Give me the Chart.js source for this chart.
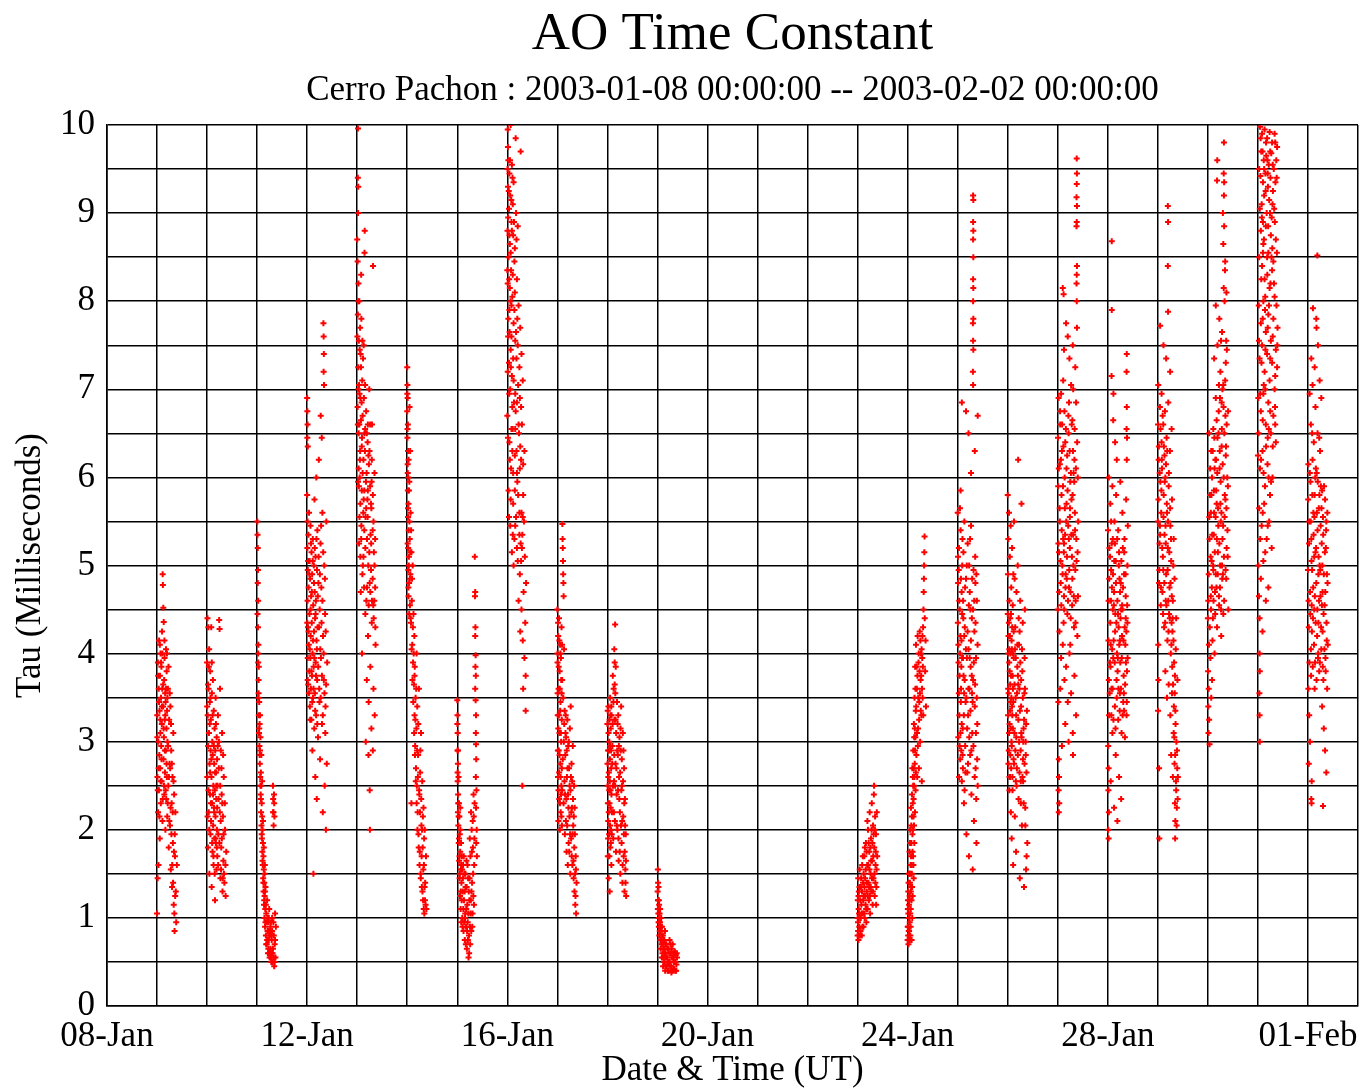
<!DOCTYPE html>
<html>
<head>
<meta charset="utf-8">
<script src="https://cdn.jsdelivr.net/npm/chart.js@4.4.0/dist/chart.umd.min.js"></script>
<style>
html,body{margin:0;padding:0;background:#fff;}
canvas{display:block;}
</style>
</head>
<body>
<canvas id="c" width="1368" height="1088"></canvas>
<script>
// x tick labels (every 4 days, starting 08-Jan)
const xTickLabels = ['08-Jan','12-Jan','16-Jan','20-Jan','24-Jan','28-Jan','01-Feb'];
const yTickLabels = ['0','1','2','3','4','5','6','7','8','9','10'];
// night start: days after 2003-01-08 00:00 UT
const nightDays = [1,2,3,4,5,6,7,8,9,10,11,15,16,17,18,19,20,21,22,23,24];
// each night: flat list of [hour UT, tau ms] pairs
const n09Jan = [0.0,1.05,0.1,3.3,0.2,2.6,0.3,1.45,0.4,3.9,0.5,2.2,0.6,3.0,0.7,1.6,0.8,3.6,0.9,2.45,1.0,4.15,1.1,2.85,1.2,3.35,1.3,1.9,1.4,3.75,1.5,2.7,1.6,3.1,1.7,4.0,1.8,2.3,1.9,3.5,2.0,2.95,2.1,3.85,2.2,2.55,2.3,3.2,2.4,4.25,2.5,3.6,2.6,2.1,2.7,4.9,2.8,4.78,2.9,3.4,3.0,4.52,3.1,2.8,3.2,4.36,3.3,3.05,3.4,3.7,3.5,2.4,3.6,3.95,3.7,3.25,3.8,2.65,3.9,3.55,4.0,2.0,4.1,3.45,4.2,2.9,4.3,4.05,4.4,2.35,4.5,3.15,4.6,3.8,4.7,2.6,4.8,3.35,4.9,2.15,5.0,3.0,5.2,3.6,5.4,2.5,5.6,1.8,5.8,3.25,6.0,2.75,6.2,2.05,6.4,3.4,6.6,1.55,6.8,2.9,7.0,2.3,7.2,1.35,7.4,2.6,7.6,1.85,7.8,3.1,8.0,1.15,8.2,2.4,8.4,0.85,8.6,1.7,8.8,2.2,9.0,1.3,9.2,0.95,9.5,1.6,
  0.15,3.05,0.35,2.45,0.55,3.75,0.75,2.7,0.95,3.45,1.15,2.15,1.35,4.1,1.55,3.25,1.75,2.55,1.95,3.9,2.15,2.8,2.35,3.4,2.55,4.0,2.75,2.35,2.95,3.65,3.15,3.15,3.35,2.5,3.55,4.15,3.75,2.9,3.95,3.3,4.15,2.45,4.35,3.6,4.55,2.75,4.75,4.0,4.95,3.5,5.1,2.3,5.3,2.95,5.5,3.85,5.7,2.6,5.9,2.1,6.1,3.55,6.3,2.7,6.5,2.25,6.7,3.2,6.9,1.95,7.1,2.75,7.3,1.6,7.5,2.2,7.7,1.4,7.9,2.55,8.1,1.75,8.3,1.05,8.5,1.95,8.7,1.25];
const n10Jan = [0.0,3.9,0.1,2.6,0.2,4.4,0.3,3.3,0.4,1.8,0.5,2.95,0.6,4.3,0.7,3.6,0.8,2.2,0.9,3.1,1.0,4.05,1.1,1.5,1.2,2.75,1.3,3.45,1.4,2.4,1.5,3.8,1.6,1.95,1.7,2.9,1.8,3.25,1.9,2.1,2.0,4.3,2.1,2.6,2.2,1.35,2.3,3.55,2.4,2.3,2.5,3.0,2.6,1.75,2.7,2.85,2.8,3.7,2.9,2.05,3.0,2.5,3.1,1.6,3.2,3.35,3.3,2.25,3.4,2.75,3.5,1.9,3.6,3.15,3.7,2.45,3.8,1.2,3.9,2.9,4.0,2.15,4.1,3.5,4.2,1.85,4.3,2.65,4.4,2.35,4.5,1.55,4.6,3.05,4.7,2.0,4.8,2.8,4.9,1.7,5.0,2.5,5.2,3.3,5.4,1.95,5.6,2.7,5.8,4.38,6.0,4.28,6.1,2.2,6.2,3.6,6.4,1.45,6.6,2.9,6.8,1.8,7.0,2.4,7.2,3.1,7.4,1.3,7.6,2.15,7.8,1.65,8.0,2.6,8.3,1.4,8.6,2.0,8.9,1.25,9.2,1.75,
  0.05,3.4,0.25,2.15,0.45,3.65,0.65,2.45,0.85,3.85,1.05,2.0,1.25,3.2,1.45,2.65,1.65,3.5,1.85,2.3,2.05,2.8,2.25,3.9,2.45,1.85,2.65,3.3,2.85,2.4,3.05,1.7,3.25,2.95,3.45,2.2,3.65,1.5,3.85,2.65,4.05,1.9,4.25,3.2,4.45,2.5,4.65,1.8,4.85,2.25,5.1,2.95,5.3,1.6,5.5,2.35,5.7,3.0,5.9,1.85,6.3,2.5,6.5,2.1,6.7,1.55,6.9,2.7,7.1,1.9,7.3,2.3,7.5,1.45,7.7,2.85,7.9,1.95,8.1,1.5,8.5,2.3,8.8,1.6];
const n11Jan = [0.1,5.5,0.2,5.35,0.3,5.2,0.4,4.95,0.3,4.8,0.5,4.6,0.4,4.3,0.6,4.1,0.5,3.9,0.7,3.7,0.6,3.5,0.8,3.3,0.9,3.1,1.0,3.45,1.1,2.95,1.2,3.2,1.3,2.75,1.4,2.9,1.5,2.6,1.6,3.05,1.7,2.4,1.8,2.65,1.9,2.2,2.0,2.5,2.1,2.05,2.2,2.3,2.3,1.9,2.4,2.15,2.5,1.75,2.6,2.0,2.7,1.6,2.8,1.85,2.9,1.45,3.0,1.7,3.1,1.3,3.2,1.55,3.3,1.15,3.4,1.4,3.5,1.0,3.6,1.25,3.7,1.6,3.8,0.9,3.9,1.1,4.0,1.35,4.2,0.8,4.4,1.05,4.6,0.7,4.8,1.2,5.0,0.85,5.2,0.6,5.4,0.95,5.6,0.75,5.8,1.1,6.0,0.55,6.2,0.85,6.4,0.65,6.6,0.95,6.8,0.5,7.0,0.75,7.2,1.0,7.4,0.6,7.6,2.5,7.7,2.35,7.8,2.2,7.9,2.05,8.0,0.8,8.1,2.4,8.2,0.45,8.3,2.15,8.4,0.7,8.6,1.05,8.8,0.55,9.0,0.9,
  0.2,4.45,0.5,4.0,0.7,3.55,0.8,3.85,1.0,3.15,1.2,2.85,1.4,3.3,1.6,2.5,1.8,2.35,2.0,2.85,2.2,1.95,2.4,2.55,2.6,1.65,2.8,2.1,3.0,1.4,3.2,1.8,3.4,1.2,3.6,1.5,3.8,1.3,4.0,0.95,4.2,1.15,4.4,0.7,4.6,0.95,4.8,0.75,5.0,1.0,5.2,0.85,5.4,0.65,5.6,1.0,5.8,0.6,6.0,0.8,6.2,0.6,6.4,0.9,6.6,0.55,6.8,0.8,7.0,0.6,7.2,0.85,7.4,0.5,7.6,0.65,7.8,0.95,8.0,0.55,8.4,0.5,8.6,0.75,7.7,2.2,8.2,2.3];
const n12Jan = [0.0,6.9,0.1,6.75,0.2,6.6,0.1,6.45,0.3,6.35,0.0,5.8,0.2,5.5,0.1,5.2,0.3,4.95,0.2,4.6,0.4,4.3,0.3,3.95,0.5,3.65,0.6,5.35,0.7,4.75,0.8,4.1,0.9,5.6,1.0,3.8,1.1,4.45,1.2,5.05,1.3,3.4,1.4,4.85,1.5,3.95,1.6,5.45,1.7,4.2,1.8,3.6,1.9,4.65,2.0,3.25,2.1,5.15,2.2,4.35,2.3,3.75,2.4,4.9,2.5,2.9,2.6,4.0,2.7,5.3,2.8,3.5,2.9,4.55,3.0,1.5,3.1,3.85,3.2,5.0,3.3,4.25,3.4,3.15,3.5,5.75,3.6,4.7,3.7,3.55,3.8,4.4,3.9,2.6,4.0,5.1,4.1,3.9,4.2,4.6,4.3,3.3,4.4,6.0,4.5,4.15,4.6,2.35,4.7,4.95,4.8,3.7,4.9,5.4,5.0,4.3,5.2,3.05,5.4,4.8,5.6,6.2,5.8,3.6,6.0,4.5,6.2,2.8,6.4,5.25,6.5,6.7,6.6,3.95,6.8,4.75,7.0,6.45,7.1,3.2,7.3,5.6,7.5,2.2,7.6,4.2,7.8,7.75,7.9,7.6,8.0,7.4,7.9,7.2,8.1,7.05,8.0,3.7,8.2,5.0,8.4,2.5,8.6,4.45,8.8,3.4,9.0,2.0,9.2,5.5,9.4,2.75,9.6,3.9,
  0.05,4.35,0.25,3.7,0.45,5.05,0.65,4.25,0.85,3.55,1.05,4.9,1.25,4.05,1.45,3.25,1.65,4.5,1.85,5.25,2.05,3.8,2.25,4.7,2.45,3.45,2.65,5.05,2.85,4.15,3.05,3.6,3.25,4.8,3.45,3.95,3.65,5.2,3.85,3.35,4.05,4.45,4.25,3.75,4.45,5.3,4.65,4.05,4.85,3.2,5.1,4.65,5.3,3.85,5.5,5.1,5.7,4.3,5.9,3.45,6.1,4.9,6.3,4.05,6.5,3.5,6.7,5.45,6.9,4.35,7.1,3.75,7.3,4.6,7.5,3.3,7.7,5.15,7.9,4.0,8.3,3.55,8.5,4.85,8.7,3.1,8.9,4.25,9.1,3.65];
const n13Jan = [0.4,9.96,0.3,9.4,0.5,9.3,0.4,9.0,3.6,8.8,0.0,8.7,3.5,8.55,7.6,8.4,0.2,8.45,0.6,8.2,1.0,8.0,0.3,7.85,1.4,7.7,0.8,7.55,2.0,7.8,1.6,7.4,0.5,7.25,2.4,7.1,1.1,6.95,2.8,7.35,0.2,6.8,1.8,6.65,3.2,6.9,0.7,6.5,2.2,6.35,3.8,6.55,1.3,6.2,4.3,6.75,2.6,6.05,5.0,6.4,0.4,5.95,3.4,5.85,5.6,6.15,1.5,5.7,4.0,5.55,6.2,5.9,2.0,5.45,4.7,5.3,6.8,5.65,0.9,5.25,3.0,5.1,5.3,5.0,7.4,5.4,2.5,4.9,6.0,4.8,8.0,5.15,1.7,4.7,4.4,4.6,6.6,4.95,8.6,4.75,3.7,6.3,5.8,7.0,7.1,6.6,2.9,5.6,4.9,5.75,1.2,6.0,6.4,5.35,8.3,6.05,3.9,4.45,5.2,4.2,7.0,4.35,8.8,4.1,2.3,4.0,6.3,3.85,4.6,3.7,7.8,3.6,5.5,3.45,8.4,3.3,6.8,3.15,4.1,3.0,7.5,2.9,6.0,2.45,6.1,2.0,5.4,2.85,1.5,5.1,3.3,4.75,0.8,5.9,2.1,6.85,4.5,6.05,7.7,4.55,3.1,7.5,1.9,8.3,0.9,7.05,5.1,6.6,6.9,5.95,
  0.1,7.6,0.6,7.0,1.0,6.6,1.4,6.3,1.8,7.25,2.2,5.85,2.6,6.7,3.0,6.2,3.4,5.4,3.8,7.05,4.2,5.95,4.6,6.5,5.0,5.55,5.4,6.25,5.8,5.15,6.2,6.6,6.6,5.7,7.0,6.2,7.4,4.85,7.8,5.5,8.2,4.6,8.6,5.3,0.3,6.6,0.7,6.1,1.1,5.55,1.5,6.9,1.9,5.3,2.3,6.45,2.7,5.0,3.1,5.75,3.5,6.5,3.9,5.2,4.3,5.65,4.7,4.75,5.1,5.85,5.5,4.55,5.9,6.3,6.3,4.7,6.7,5.25,7.1,4.6,7.5,5.8,7.9,4.4,8.3,5.0,8.7,4.3,0.5,8.0,1.2,7.45,2.5,7.55];
const n14Jan = [0.0,7.25,0.1,7.05,0.2,6.9,0.0,6.75,0.3,6.6,0.1,6.45,0.4,6.3,0.2,6.15,0.5,6.0,0.3,5.85,0.6,5.7,0.4,5.55,0.7,5.4,0.2,5.25,0.8,5.1,0.5,4.95,0.9,4.8,0.6,4.65,1.1,6.8,1.0,5.95,1.2,5.3,1.3,4.55,1.4,6.3,1.5,4.9,1.6,5.6,1.8,4.35,2.0,5.15,2.0,2.3,2.2,4.6,2.4,4.1,2.6,5.0,2.8,3.9,3.0,4.45,3.2,3.65,3.4,4.2,3.5,3.3,3.6,3.85,3.8,2.95,4.0,3.5,4.2,2.7,4.4,3.15,4.5,4.0,4.6,2.5,4.8,3.4,5.0,2.2,5.2,2.85,5.4,1.95,5.6,3.6,5.8,2.4,6.0,1.75,6.2,2.65,6.4,1.5,6.6,3.1,6.8,2.05,7.0,1.35,7.2,2.55,7.4,1.8,7.6,1.2,7.8,2.25,8.0,1.6,8.2,1.05,8.4,2.0,8.6,1.4,8.8,1.15,9.0,1.7,9.2,1.1,
  0.05,6.95,0.15,6.55,0.25,6.05,0.35,5.65,0.45,5.2,0.55,4.75,0.65,6.2,0.75,5.0,0.85,5.85,0.95,4.45,1.05,5.5,1.25,4.85,1.45,5.15,1.65,4.4,1.85,5.4,2.1,4.05,2.3,4.85,2.5,3.7,2.7,4.3,2.9,3.45,3.1,4.0,3.3,3.1,3.5,3.75,3.7,2.85,3.9,3.25,4.1,2.55,4.3,3.6,4.5,2.3,4.7,2.9,4.9,2.0,5.1,2.6,5.3,3.2,5.5,1.8,5.7,2.45,5.9,1.6,6.1,2.2,6.3,2.9,6.5,1.45,6.7,2.35,6.9,1.7,7.1,2.0,7.3,1.3,7.5,2.15,7.7,1.55,7.9,1.1,8.1,1.9,8.3,1.35,8.5,1.2];
const n15Jan = [0.0,3.47,0.1,3.3,0.2,3.1,0.1,2.9,0.3,2.75,0.2,2.55,0.4,2.4,0.3,2.2,0.5,2.05,0.6,2.6,0.7,1.85,0.8,2.3,0.9,1.65,1.0,2.15,1.1,1.45,1.2,1.95,1.3,1.25,1.4,1.75,1.5,2.0,1.6,1.1,1.7,1.55,1.8,1.85,1.9,0.95,2.0,1.4,2.2,1.7,2.4,1.0,2.6,1.3,2.8,1.6,3.0,0.85,3.2,1.2,3.4,1.5,3.6,0.75,3.8,1.05,4.0,1.35,4.2,0.9,4.4,1.65,4.6,0.65,4.8,1.15,5.0,0.95,5.2,1.45,5.4,0.55,5.6,0.8,5.8,1.2,6.0,1.9,6.2,0.7,6.4,1.05,6.6,2.2,6.8,1.3,7.0,1.75,7.2,0.9,7.4,2.1,7.6,1.5,7.8,2.4,8.0,1.15,8.4,5.1,8.6,4.7,8.5,4.65,8.7,4.3,8.6,4.2,8.8,3.98,8.7,3.85,8.9,3.75,8.6,3.6,8.8,3.47,9.0,3.3,8.9,3.1,9.0,2.97,9.1,2.8,8.9,2.6,9.2,2.45,9.0,2.25,9.3,2.0,9.1,1.85,9.4,1.7,
  0.05,3.2,0.15,2.65,0.35,2.9,0.45,2.3,0.65,2.15,0.85,1.9,1.05,1.7,1.25,1.5,1.45,2.25,1.65,1.3,1.85,1.6,2.1,1.2,2.3,1.55,2.5,0.9,2.7,1.45,2.9,1.1,3.1,1.7,3.3,0.95,3.5,1.3,3.7,1.0,3.9,1.5,4.1,0.7,4.3,1.1,4.5,1.35,4.7,0.85,4.9,1.6,5.1,0.75,5.3,1.05,5.5,1.3,5.7,0.6,5.9,1.45,6.1,0.9,6.3,1.7,6.5,1.2,6.7,0.85,6.9,2.0,7.1,1.4,7.3,1.05,7.5,1.8,7.7,1.25,7.9,2.15,8.1,1.6,8.2,1.9,8.3,2.3];
const n16Jan = [0.2,9.95,1.6,10.0,4.0,9.85,6.4,9.7,0.5,9.6,1.0,9.45,2.2,9.55,0.3,9.3,1.4,9.2,3.0,9.35,0.8,9.05,2.0,8.9,4.2,9.0,0.1,8.8,1.2,8.65,2.8,8.75,5.0,8.85,0.6,8.5,1.8,8.35,3.4,8.45,0.2,8.2,2.4,8.05,4.6,8.25,1.0,7.9,3.0,7.75,5.4,7.95,0.4,7.6,1.6,7.45,3.8,7.55,6.2,7.7,0.8,7.3,2.2,7.15,4.4,7.35,6.8,7.4,1.4,7.0,3.2,6.85,5.2,7.05,0.0,6.7,2.6,6.55,4.0,6.75,6.0,6.9,7.4,7.1,1.0,6.4,3.6,6.25,5.6,6.5,7.0,6.6,1.8,6.1,4.8,5.95,6.6,6.2,0.6,5.85,2.8,5.7,4.2,5.55,7.6,5.8,1.4,5.45,3.4,5.3,5.8,5.6,8.0,5.5,2.2,5.15,5.0,5.05,6.4,5.25,8.4,5.1,3.0,5.0,7.2,5.35,0.3,9.75,2.6,9.1,3.6,8.6,1.2,8.15,4.8,7.8,2.0,7.6,5.8,7.25,3.8,6.95,6.6,6.8,2.4,6.3,4.6,6.05,8.2,6.3,7.0,5.2,6.0,4.9,7.8,4.7,6.8,4.5,8.6,4.35,7.4,4.15,8.2,3.95,8.8,3.75,7.6,3.6,8.8,3.35,7.2,2.5,5.4,4.6,9.0,4.8,6.2,4.25,
  0.1,9.5,0.7,9.25,1.3,9.6,1.9,9.15,2.5,9.4,0.4,8.95,1.0,8.75,1.6,8.55,2.2,8.8,3.2,8.9,0.0,8.35,0.9,8.25,1.5,8.0,2.6,8.3,3.6,8.1,4.4,8.7,0.5,7.8,1.1,7.65,2.0,7.95,2.8,7.35,3.4,7.9,4.2,7.65,5.0,7.5,0.2,7.2,0.9,6.95,1.7,7.25,2.4,6.8,3.0,7.1,3.8,6.55,4.6,6.85,5.4,6.6,6.2,6.35,0.3,6.45,1.2,6.2,2.0,6.55,2.8,6.05,3.6,5.85,4.4,6.3,5.2,5.8,6.0,6.1,6.8,5.6,7.6,6.15,0.8,5.55,1.6,5.75,2.6,5.35,3.8,5.45,4.6,5.2,5.8,5.35,6.6,5.05,7.4,5.55];
const n17Jan = [0.0,4.5,0.1,3.9,0.2,3.3,0.3,2.6,0.4,4.2,0.5,2.1,0.6,3.6,0.7,2.9,0.8,4.4,0.9,2.35,1.0,3.1,1.1,3.8,1.2,2.0,1.3,4.1,1.4,2.75,1.5,3.45,1.6,2.2,1.7,3.95,1.8,3.0,1.9,2.5,2.0,4.3,2.1,3.25,2.2,2.05,2.3,3.7,2.4,5.47,2.5,5.3,2.6,5.2,2.7,5.05,2.8,4.9,2.9,4.8,3.0,4.65,2.6,2.8,2.8,3.5,3.0,2.3,3.2,4.05,3.3,3.2,3.4,2.55,3.5,3.35,3.6,1.95,3.8,2.85,4.0,3.3,4.1,2.1,4.2,3.05,4.4,1.75,4.6,2.6,4.8,3.25,5.0,1.6,5.1,2.4,5.2,2.95,5.4,1.85,5.6,2.7,5.8,2.15,6.0,3.15,6.2,1.5,6.3,2.45,6.4,3.4,6.6,1.9,6.8,2.75,7.0,2.25,7.2,1.6,7.4,2.95,7.6,2.05,7.8,1.45,8.0,2.5,8.2,1.3,8.4,1.95,8.6,1.15,8.8,1.7,9.0,1.05,9.2,1.4,
  0.05,4.0,0.15,3.55,0.25,2.9,0.35,4.35,0.45,3.15,0.55,2.45,0.65,3.85,0.75,3.3,0.85,2.65,0.95,4.15,1.05,2.85,1.15,3.6,1.25,2.3,1.35,3.35,1.45,4.0,1.55,2.6,1.65,3.1,1.75,2.4,1.85,3.7,1.95,2.15,2.05,3.55,2.15,2.7,2.25,4.1,2.35,2.45,3.1,3.0,3.7,2.4,3.9,3.1,4.3,2.35,4.5,2.9,4.7,2.05,4.9,2.7,5.3,2.25,5.5,3.0,5.7,1.75,5.9,2.5,6.1,1.95,6.5,2.6,6.7,2.2,6.9,1.7,7.1,2.55,7.3,1.95,7.5,2.35,7.7,1.65,7.9,2.15,8.1,1.8,8.3,2.25,8.5,1.5,8.7,1.25,8.9,1.55];
const n18Jan = [0.0,3.2,0.1,2.5,0.2,1.7,0.3,2.9,0.4,2.1,0.5,3.4,0.6,1.45,0.7,2.65,0.8,1.95,0.9,3.0,1.0,2.3,1.1,1.3,1.2,2.8,1.3,3.5,1.4,1.8,1.5,2.45,1.6,3.15,1.7,2.0,1.8,2.7,1.9,1.6,2.0,3.3,2.2,2.2,2.4,2.95,2.6,3.75,2.8,1.9,3.0,3.6,3.2,2.55,3.3,4.05,3.4,3.25,3.5,3.9,3.6,2.1,3.7,4.33,3.8,3.55,3.9,2.75,4.0,3.85,4.1,1.75,4.2,3.1,4.4,2.4,4.6,3.45,4.8,2.0,5.0,2.85,5.2,3.3,5.4,1.65,5.6,2.6,5.8,3.05,6.0,2.2,6.2,1.5,6.4,2.9,6.6,3.4,6.8,1.85,7.0,2.5,7.2,1.4,7.4,3.1,7.6,2.15,7.8,1.7,8.0,2.7,8.2,1.3,8.4,2.35,8.6,1.55,8.8,1.95,9.0,1.25,
  0.05,2.75,0.15,3.35,0.25,2.3,0.35,1.9,0.45,2.6,0.55,3.1,0.65,2.2,0.75,2.9,0.85,2.45,0.95,1.7,1.05,3.25,1.15,2.55,1.25,2.05,1.35,2.95,1.45,3.3,1.55,2.25,1.65,1.85,1.75,2.9,1.85,3.4,1.95,2.4,2.1,1.95,2.3,2.75,2.5,3.2,2.7,2.5,2.9,3.45,3.1,2.2,3.3,2.85,3.5,3.65,3.7,2.5,3.9,3.25,4.3,2.7,4.5,2.05,4.7,2.9,4.9,3.2,5.1,2.45,5.3,1.9,5.5,2.95,5.7,2.35,5.9,1.75,6.1,2.65,6.3,3.15,6.5,2.05,6.7,2.45,6.9,2.8,7.1,2.1,7.3,1.6,7.5,2.55,7.7,2.9,7.9,1.95,8.1,2.3,8.3,1.75,8.5,2.05,8.7,1.4,8.9,1.65];
const n19Jan = [0.2,1.55,0.3,1.4,0.1,1.3,0.4,1.2,0.2,1.1,0.5,1.35,0.6,1.0,0.7,0.9,0.8,1.15,0.9,0.8,1.0,1.05,1.2,0.95,1.4,0.75,1.6,0.85,1.8,1.0,2.0,0.7,2.2,0.9,2.4,0.6,2.6,0.8,2.8,0.55,3.0,0.75,3.2,0.65,3.4,0.5,3.6,0.85,3.8,0.6,4.0,0.45,4.3,0.7,4.6,0.55,4.9,0.4,5.2,0.65,5.5,0.5,5.8,0.75,6.1,0.45,6.4,0.6,6.7,0.38,7.0,0.55,7.3,0.7,7.6,0.42,7.9,0.6,8.2,0.5,8.5,0.4,8.8,0.58,9.1,0.47,9.4,0.55,
  0.25,1.2,0.45,1.05,0.55,0.95,0.65,1.2,0.85,0.95,1.1,0.85,1.3,1.1,1.5,0.65,1.7,0.9,1.9,0.75,2.1,0.55,2.3,0.8,2.5,0.7,2.7,0.45,2.9,0.65,3.1,0.5,3.3,0.75,3.5,0.6,3.7,0.4,3.9,0.7,4.15,0.55,4.45,0.45,4.75,0.65,5.05,0.5,5.35,0.4,5.65,0.6,5.95,0.5,6.25,0.7,6.55,0.45,6.85,0.65,7.15,0.4,7.45,0.55,7.75,0.5,8.05,0.42,8.35,0.62,8.65,0.5,8.95,0.4,9.25,0.6];
const n23Jan = [0.0,0.8,0.1,1.2,0.2,0.95,0.3,1.45,0.4,0.75,0.5,1.1,0.6,1.3,0.8,0.9,1.0,1.55,1.2,1.0,1.4,0.85,1.6,1.35,1.8,1.15,2.0,0.8,2.2,1.6,2.4,1.05,2.6,1.4,2.8,0.9,3.0,1.25,3.2,1.7,3.4,1.0,3.6,1.45,3.8,1.15,4.0,1.85,4.2,0.95,4.4,1.3,4.6,1.6,4.8,1.1,5.0,2.0,5.2,1.4,5.4,1.2,5.6,1.75,5.8,2.2,6.0,1.05,6.2,1.5,6.4,1.9,6.6,1.3,6.8,2.3,7.0,1.65,7.2,1.15,7.4,2.05,7.6,1.45,7.8,2.4,7.9,2.5,8.0,1.8,8.2,1.25,8.4,2.15,8.6,1.6,8.8,1.95,9.0,1.35,9.2,2.2,9.4,1.7,
  0.05,1.0,0.25,0.85,0.45,1.25,0.7,1.05,0.9,1.35,1.1,0.8,1.3,1.2,1.5,1.0,1.7,1.45,1.9,1.05,2.1,1.3,2.3,0.9,2.5,1.7,2.7,1.2,2.9,1.5,3.1,1.05,3.3,1.35,3.5,1.8,3.7,1.25,3.9,1.55,4.1,1.1,4.3,1.75,4.5,1.4,4.7,2.1,4.9,1.25,5.1,1.6,5.3,1.85,5.5,1.35,5.7,1.55,5.9,1.25,6.1,1.8,6.3,1.35,6.5,1.65,6.7,2.0,6.9,1.45,7.1,1.85,7.3,1.3,7.5,1.7,7.7,1.95,8.1,1.5,8.3,2.0,8.5,1.4,8.7,1.75,8.9,1.15,9.1,1.55];
const n24Jan = [0.0,0.75,0.1,1.1,0.2,0.9,0.3,1.3,0.4,0.7,0.5,1.0,0.6,1.5,0.7,0.85,0.8,1.2,0.9,1.75,1.0,0.95,1.1,1.4,1.2,2.0,1.3,0.8,1.4,1.6,1.5,1.1,1.6,2.25,1.7,1.35,1.8,1.85,1.9,0.75,2.0,1.5,2.1,2.4,2.2,1.0,2.3,1.95,2.4,1.25,2.5,2.6,2.6,1.7,2.7,2.9,2.8,2.15,2.9,1.45,3.0,3.2,3.1,2.5,3.2,1.85,3.3,3.5,3.4,2.75,3.5,2.2,3.6,3.85,3.7,3.05,3.8,2.45,3.9,3.35,4.0,4.1,4.2,2.85,4.4,3.6,4.6,2.6,4.8,4.2,5.0,3.15,5.2,3.9,5.4,2.7,5.6,3.45,5.8,4.25,6.0,3.0,6.2,3.7,6.4,4.0,6.6,3.3,6.8,2.55,7.0,3.95,7.2,3.5,7.4,4.3,7.6,4.5,7.7,4.7,7.8,4.85,7.9,5.0,8.0,5.15,8.1,5.33,8.2,4.4,8.4,3.8,8.6,4.15,8.8,3.4,
  0.05,0.9,0.15,1.2,0.25,0.8,0.35,1.05,0.45,1.4,0.55,0.85,0.65,1.15,0.75,1.0,0.85,1.5,0.95,1.25,1.05,0.75,1.15,1.85,1.25,1.05,1.35,1.5,1.45,0.9,1.55,1.3,1.65,1.7,1.75,2.05,1.85,1.2,1.95,1.6,2.05,2.15,2.15,1.35,2.25,2.7,2.35,1.75,2.45,2.3,2.55,2.0,2.65,2.5,2.75,1.6,2.85,2.35,2.95,2.7,3.05,2.05,3.15,3.05,3.25,2.6,3.45,3.15,3.55,2.9,3.75,3.6,3.95,2.65,4.1,3.4,4.3,3.85,4.5,3.1,4.7,3.75,4.9,2.95,5.1,3.5,5.3,4.0,5.5,3.25,5.7,3.8,5.9,3.55,6.1,4.15,6.3,3.35,6.5,3.75,6.7,4.05,6.9,3.6,7.1,4.2,7.3,3.85,7.5,3.3];
const n25Jan = [7.4,9.2,7.5,9.15,7.4,8.9,7.5,8.8,7.4,8.7,7.5,8.5,7.4,8.25,7.5,8.15,7.4,8.0,7.5,7.8,7.3,7.75,7.4,7.55,7.5,7.45,7.3,7.2,7.4,7.05,2.0,6.85,4.0,6.75,9.6,6.7,5.2,6.5,8.2,6.3,6.4,6.05,1.4,5.85,0.0,5.6,0.2,4.8,0.4,3.9,0.6,5.2,0.8,3.3,1.0,4.5,1.2,2.8,1.4,5.4,1.6,3.6,1.8,4.15,2.0,2.55,2.2,5.0,2.4,3.15,2.6,4.6,2.8,3.75,3.0,2.3,3.2,5.5,3.4,4.3,3.6,2.95,3.8,3.45,4.0,4.85,4.2,1.95,4.4,3.95,4.6,2.65,4.8,5.25,5.0,3.3,5.2,4.05,5.4,1.7,5.6,3.6,5.8,4.7,6.0,2.85,6.2,3.85,6.4,5.45,6.6,2.4,6.8,4.4,7.0,3.1,7.2,1.55,7.4,3.7,7.6,4.95,7.8,2.1,8.0,4.25,8.2,3.4,8.4,5.1,8.6,2.7,8.8,3.95,9.0,1.85,9.2,4.6,9.4,3.2,9.6,2.5,0.1,4.35,0.3,3.05,0.5,4.95,0.7,2.6,0.9,3.75,1.1,5.65,1.3,4.2,1.5,3.45,1.7,2.9,1.9,4.7,2.1,3.95,2.3,5.3,2.5,2.7,2.7,4.4,3.1,3.55,3.3,2.45,5.5,5.0,6.1,4.5,6.9,3.55,8.5,4.8,8.9,2.35,
  0.15,5.1,0.35,4.1,0.55,3.55,0.75,4.6,0.95,2.95,1.15,4.0,1.35,3.1,1.55,4.85,1.75,3.85,1.95,3.2,2.15,4.45,2.35,2.85,2.55,3.95,2.75,5.15,2.95,3.3,3.15,4.2,3.35,3.7,3.55,4.75,3.75,2.65,3.95,4.05,4.15,3.5,4.35,5.0,4.55,3.15,4.75,4.25,4.95,2.75,5.15,3.6,5.35,4.55,5.55,3.05,5.75,3.95,5.95,5.3,6.15,3.35,6.35,4.15,6.55,2.9,6.75,3.75,6.95,4.85,7.15,3.45,7.35,4.5,7.55,2.95,7.75,3.9,7.95,4.6,8.15,2.6,8.35,3.65,8.55,4.35,8.75,3.1,8.95,4.9,9.15,3.5,9.35,2.8,9.55,4.1];
const n26Jan = [0.0,5.8,0.1,4.9,0.2,3.6,0.3,5.3,0.4,4.2,0.5,2.9,0.6,5.6,0.7,3.9,0.8,4.6,0.9,3.2,1.0,5.1,1.1,2.6,1.2,4.4,1.3,3.45,1.4,5.45,1.5,2.2,1.6,3.75,1.7,4.75,1.8,3.0,1.9,1.9,2.0,4.05,2.1,5.2,2.2,3.3,2.3,2.45,2.4,4.55,2.5,3.6,2.6,1.6,2.7,4.9,2.8,2.8,2.9,3.95,3.0,5.5,3.2,3.1,3.4,2.15,3.6,4.3,3.8,3.5,4.0,1.75,4.2,4.7,4.4,2.7,4.6,3.85,4.8,5.0,5.0,6.2,5.1,3.25,5.2,2.35,5.4,4.1,5.6,3.6,5.8,1.45,6.0,4.6,6.2,2.9,6.4,3.4,6.6,5.7,6.8,2.05,7.0,3.8,7.2,4.35,7.4,2.55,7.6,3.15,7.8,1.35,8.0,3.55,8.2,4.5,8.4,2.25,8.6,3.0,8.8,1.55,9.0,2.65,9.2,3.35,9.4,1.85,2.5,4.0,3.3,4.85,4.1,3.05,4.9,3.75,5.7,4.25,6.5,3.1,7.3,2.8,8.1,3.95,1.2,3.65,0.8,2.45,3.9,2.55,6.3,2.3,
  0.05,4.45,0.15,3.3,0.25,4.0,0.35,2.75,0.45,3.55,0.55,4.35,0.65,3.1,0.75,4.05,0.85,2.6,0.95,3.8,1.05,4.2,1.15,3.35,1.25,2.85,1.35,4.0,1.45,3.15,1.55,4.45,1.65,2.7,1.75,3.5,1.85,4.15,1.95,2.95,2.05,3.4,2.15,4.3,2.25,2.6,2.35,3.75,2.45,3.15,2.65,3.45,2.85,4.25,3.05,2.75,3.25,3.65,3.45,4.05,3.65,2.9,3.85,3.95,4.05,3.3,4.25,2.5,4.45,3.55,4.65,4.1,4.85,2.85,5.05,3.65,5.25,4.4,5.45,3.0,5.65,2.65,5.85,3.35,6.05,3.9,6.25,2.55,6.45,3.7,6.65,3.05,6.85,4.05,7.05,2.6,7.25,3.5,7.45,3.0,7.65,2.3,7.85,3.25,8.05,2.75,8.25,3.6,8.45,2.05,8.65,2.85,8.85,3.2,9.05,1.7];
const n27Jan = [9.1,9.62,9.2,9.45,9.1,9.33,9.0,9.18,9.2,9.08,9.1,8.9,9.0,8.85,9.2,8.4,9.1,8.3,9.0,8.2,9.1,8.0,9.2,7.7,2.4,8.15,2.8,8.08,4.0,7.75,4.8,7.6,3.0,7.45,5.6,7.35,7.2,7.5,8.4,7.25,2.6,7.1,6.4,7.05,0.4,6.9,1.2,6.6,2.0,6.3,3.2,6.75,4.2,6.1,5.2,6.5,6.0,5.95,7.0,6.65,8.0,6.2,8.8,6.85,9.6,6.0,0.2,5.9,1.0,5.5,1.8,5.8,2.6,5.3,3.4,5.65,4.4,5.1,5.0,5.45,5.8,5.2,6.6,5.75,7.4,5.35,8.2,5.6,9.0,5.05,9.8,5.5,0.6,5.15,1.4,4.8,2.2,5.0,3.0,4.65,3.8,4.9,4.6,4.45,5.4,4.75,6.2,4.4,7.0,4.85,7.8,4.3,8.6,4.6,9.4,4.2,0.0,4.5,0.8,4.25,1.6,3.95,2.4,4.1,3.2,3.7,4.0,3.85,4.8,3.45,5.6,4.0,6.4,3.55,7.2,3.1,7.3,2.85,8.0,3.75,8.8,3.3,3.6,3.2,5.2,3.0,0.3,3.45,0.5,2.8,0.6,2.6,0.4,2.45,0.7,2.3,0.5,2.2,1.2,3.6,2.0,2.95,1.0,6.15,3.6,6.4,5.4,6.85,7.6,6.05,4.2,5.7,6.8,5.1,8.4,4.95,2.8,4.35,6.0,4.1,1.6,6.95,7.4,7.0,3.0,5.25,5.8,5.55,
  0.1,6.45,0.3,5.25,0.5,6.1,0.7,4.7,0.9,5.65,1.1,6.75,1.3,5.05,1.5,6.2,1.7,4.55,1.9,5.4,2.1,6.6,2.3,4.9,2.5,5.9,2.7,6.35,2.9,5.15,3.1,4.5,3.3,6.0,3.5,5.35,3.7,4.75,3.9,6.55,4.1,5.5,4.3,4.85,4.5,6.25,4.7,5.85,4.9,4.6,5.1,6.7,5.3,5.3,5.5,4.95,5.7,6.3,5.9,5.65,6.1,4.7,6.3,6.05,6.5,5.35,6.7,6.6,6.9,4.55,7.1,5.8,7.3,6.3,7.5,5.0,7.7,4.65,7.9,5.95,8.1,6.55,8.3,5.4,8.5,4.35,8.7,6.1,8.9,5.3,9.3,6.4,9.5,5.15,9.7,4.65];
const n28Jan = [1.9,8.68,1.9,7.9,9.1,7.4,9.0,7.2,1.8,7.15,2.7,6.95,9.1,6.8,9.0,6.55,2.6,6.65,3.5,6.4,4.3,6.2,9.2,6.45,9.1,6.2,0.5,6.0,1.2,5.7,2.2,5.9,3.2,5.5,4.0,5.8,5.0,5.4,6.0,5.95,7.0,5.6,8.0,5.3,8.8,5.75,9.6,5.45,0.8,5.2,1.6,4.95,2.4,5.3,3.0,4.7,3.8,5.05,4.6,4.6,5.4,5.15,6.2,4.8,7.0,4.5,7.8,4.9,8.6,4.65,9.4,5.0,0.4,4.6,1.2,4.35,2.0,4.75,2.8,4.15,3.6,4.45,4.4,4.0,5.2,4.3,6.0,3.9,6.8,4.2,7.6,3.75,8.4,4.1,9.2,3.8,1.0,3.9,1.8,3.6,2.6,3.95,3.4,3.4,4.2,3.7,5.0,3.25,5.8,3.55,6.6,3.1,7.4,3.45,8.2,3.05,9.0,3.3,0.6,3.3,2.2,3.1,3.8,2.85,5.4,2.6,6.4,2.35,0.2,2.95,0.4,2.7,0.3,2.45,0.5,2.2,0.2,2.0,0.4,1.9,1.4,2.55,3.0,2.25,4.6,2.1,1.6,5.5,3.4,5.25,5.6,4.85,7.2,5.2,8.6,4.4,2.4,4.5,4.8,3.95,6.4,4.5,7.8,3.35,9.4,4.35,1.4,4.1,5.8,4.15,
  0.1,5.4,0.3,4.15,0.5,3.7,0.7,4.85,0.9,3.55,1.1,5.1,1.3,3.85,1.5,4.6,1.7,3.3,1.9,5.25,2.1,4.05,2.3,3.6,2.5,4.9,2.7,3.25,2.9,4.55,3.1,5.05,3.3,3.9,3.5,4.25,3.7,3.15,3.9,4.8,4.1,4.35,4.3,3.5,4.5,5.3,4.7,3.8,4.9,4.45,5.1,3.6,5.3,5.0,5.5,4.1,5.7,3.35,5.9,4.7,6.1,4.4,6.3,3.6,6.5,5.05,6.7,3.95,6.9,4.55,7.1,3.3,7.3,4.75,7.5,4.15,7.7,3.55,7.9,5.15,8.1,4.3,8.3,3.65,8.5,4.9,8.7,3.9,8.9,4.25,9.1,3.45,9.3,4.55,9.5,3.95];
const n29Jan = [4.8,9.08,4.9,8.9,4.8,8.4,4.9,7.88,1.1,7.72,2.7,7.5,4.0,7.35,5.9,7.2,0.2,7.05,1.0,6.8,1.8,6.95,2.6,6.6,3.4,6.75,4.2,6.45,5.0,6.85,5.8,6.3,6.6,6.55,0.4,6.2,1.2,5.95,2.0,6.1,2.8,5.8,3.6,6.0,4.4,5.6,5.2,5.9,6.0,5.45,6.8,5.75,7.6,5.3,0.0,5.5,0.8,5.25,1.6,5.6,2.4,5.1,3.2,5.35,4.0,4.9,4.8,5.2,5.6,4.75,6.4,5.05,7.2,4.6,8.0,4.85,8.8,4.4,0.6,4.8,1.4,4.55,2.2,4.7,3.0,4.3,3.8,4.6,4.6,4.15,5.4,4.45,6.2,4.0,7.0,4.25,7.8,3.9,8.6,4.05,9.4,3.7,0.2,4.1,0.3,3.7,0.1,3.35,0.6,2.7,0.7,1.9,3.6,3.8,4.4,3.5,5.2,3.65,6.0,3.3,6.8,3.55,7.6,3.1,8.4,3.35,9.2,2.9,6.4,2.85,7.2,2.6,8.0,2.75,8.8,2.45,9.6,2.6,8.2,2.3,8.4,2.1,8.3,1.9,9.0,2.05,1.8,6.4,3.2,6.25,2.6,4.95,5.0,4.6,7.4,5.0,1.0,5.45,3.8,5.25,6.6,4.35,8.2,3.75,
  0.1,6.6,0.3,5.75,0.5,6.35,0.7,4.95,0.9,6.05,1.1,5.35,1.3,6.55,1.5,4.75,1.7,5.85,1.9,6.2,2.1,5.2,2.3,6.7,2.5,4.45,2.7,5.55,2.9,6.35,3.1,4.8,3.3,5.95,3.5,4.35,3.7,5.45,3.9,6.15,4.1,4.55,4.3,5.7,4.5,6.3,4.7,4.95,4.9,5.5,5.1,4.25,5.3,6.05,5.5,5.15,5.7,4.4,5.9,5.65,6.1,4.8,6.3,5.3,6.5,4.1,6.7,4.65,6.9,3.85,7.1,4.4,7.3,3.65,7.5,4.15,7.7,3.4,7.9,3.05,8.1,3.55,8.3,2.85,8.5,3.2,8.7,2.55,8.9,3.0,9.1,2.25,9.3,2.7,9.5,2.35];
const n30Jan = [7.7,9.8,4.5,9.6,7.6,9.45,7.8,9.35,4.4,9.37,7.7,9.2,7.2,9.0,7.8,8.85,7.4,8.65,8.3,8.45,8.2,8.35,7.6,8.15,8.0,8.0,3.8,7.95,5.5,7.8,6.8,7.65,8.8,7.55,4.6,7.5,3.0,7.35,6.0,7.2,7.4,7.05,8.6,7.3,3.8,6.9,5.2,6.75,9.0,6.6,6.6,6.85,0.6,6.5,1.6,6.3,2.6,6.55,3.6,6.2,4.6,6.45,5.6,6.1,6.6,6.35,7.6,6.0,8.6,6.25,9.6,5.9,1.0,5.8,2.0,6.0,3.0,5.6,4.0,5.85,5.0,5.45,6.0,5.7,7.0,5.3,8.0,5.55,9.0,5.2,0.8,5.3,1.8,5.05,2.8,5.35,3.8,4.9,4.8,5.15,5.8,4.75,6.8,5.0,7.8,4.6,8.8,4.85,9.8,4.5,1.4,4.65,2.4,4.4,3.4,4.7,4.4,4.3,5.4,4.55,6.4,4.2,7.4,4.45,0.0,4.4,0.5,4.1,1.2,3.95,2.2,4.15,3.2,4.0,0.1,3.8,0.4,3.6,0.2,3.4,0.6,3.25,0.3,3.1,0.8,2.97,1.6,3.5,2.0,3.7,4.2,6.65,5.8,6.9,7.0,7.0,8.4,6.7,3.2,6.1,1.4,5.6,2.6,4.95,4.2,5.7,6.2,5.5,7.2,4.9,8.4,5.75,9.4,5.4,
  0.2,4.6,0.4,4.9,0.7,5.55,0.9,4.3,1.1,6.1,1.3,5.1,1.5,4.5,1.7,5.8,1.9,4.75,2.1,5.35,2.3,6.3,2.5,5.0,2.7,4.6,2.9,5.85,3.1,6.45,3.3,5.15,3.5,4.45,3.7,5.55,3.9,6.2,4.1,4.75,4.3,5.3,4.5,6.05,4.7,4.9,4.9,5.65,5.1,6.5,5.3,4.65,5.5,5.25,5.7,6.3,5.9,5.0,6.1,5.95,6.3,4.5,6.5,5.6,6.7,6.55,6.9,4.85,7.1,6.15,7.3,5.45,7.5,6.8,7.7,5.1,7.9,6.5,8.1,5.8,8.3,7.1,8.5,4.95,8.7,6.35,8.9,5.65,9.1,7.45,9.3,6.0,9.5,5.1,9.7,6.75,6.3,7.55,5.3,7.05,8.9,8.1];
const n31Jan = [1.0,9.98,2.0,9.9,3.2,9.95,4.4,9.85,5.6,9.92,6.8,9.8,8.0,9.9,9.2,9.75,1.6,9.7,2.8,9.6,4.0,9.65,5.2,9.55,6.4,9.68,7.6,9.5,8.8,9.6,1.2,9.42,2.4,9.35,3.6,9.45,4.8,9.3,6.0,9.4,7.2,9.25,8.4,9.35,1.8,9.1,3.0,9.2,4.2,9.0,5.4,9.15,6.6,8.95,7.8,9.05,1.4,8.8,2.6,8.65,3.8,8.85,5.0,8.55,6.2,8.75,7.4,8.45,8.6,8.7,2.0,8.4,3.2,8.25,4.4,8.5,5.6,8.15,6.8,8.35,8.0,8.05,0.4,7.95,1.4,7.75,2.6,8.0,3.8,7.65,5.0,7.85,6.2,7.55,7.4,7.8,8.6,7.45,9.4,7.7,0.8,7.35,2.0,7.5,3.2,7.2,4.4,7.4,5.6,7.1,6.8,7.3,8.0,7.0,9.2,7.25,0.2,6.9,1.4,6.75,2.6,6.95,3.8,6.6,5.0,6.85,6.2,6.5,7.4,6.7,8.6,6.4,0.0,6.25,1.0,6.1,2.2,6.3,3.4,5.9,4.6,6.15,5.8,5.8,7.0,6.0,0.6,5.65,1.8,5.45,3.0,5.7,4.2,5.3,5.4,5.5,6.6,5.2,0.2,5.0,1.4,4.85,2.6,5.05,3.8,4.6,5.0,4.75,0.8,4.4,2.2,4.25,0.8,4.0,0.9,3.8,0.7,3.55,0.8,3.3,0.9,3.0,2.4,8.9,4.6,9.6,7.0,9.1,3.4,7.9,6.0,8.2,2.8,7.05,5.2,6.55,8.2,6.8,
  0.6,9.5,1.3,9.85,2.2,9.7,3.0,9.5,3.9,9.8,4.7,9.45,5.9,9.7,7.1,9.55,8.3,9.8,9.0,9.4,0.9,9.05,1.9,8.95,2.9,8.7,3.7,9.25,4.9,8.85,5.8,9.0,6.9,8.6,8.1,8.9,9.1,8.55,0.6,8.5,1.6,8.25,2.4,8.55,3.5,8.05,4.5,8.3,5.3,7.95,6.5,8.5,7.7,8.2,8.9,7.95,0.5,7.55,1.7,7.3,2.3,7.8,3.6,7.45,4.7,7.7,5.9,7.35,7.1,7.6,8.3,7.15,9.3,7.5,1.1,6.95,2.3,6.65,3.5,7.0,4.7,6.45,5.9,6.75,7.1,6.35,8.3,6.6,0.3,6.5,1.5,6.2,2.7,6.05,3.9,6.35,5.1,6.0,6.3,5.95,1.1,5.3,2.3,5.6,3.5,5.15,4.7,5.45,0.5,4.65];
const n01Feb = [4.5,8.52,2.4,7.92,4.0,7.8,4.1,7.7,4.8,7.5,1.6,7.35,3.2,7.25,5.6,7.1,2.2,7.05,0.8,6.95,3.6,6.8,6.4,6.9,1.4,6.6,4.6,6.5,2.8,6.4,5.8,6.3,0.2,6.15,1.2,5.95,2.2,6.2,3.2,5.8,4.2,6.05,5.2,5.65,6.2,5.9,7.2,5.55,8.2,5.75,0.6,5.5,1.6,5.3,2.6,5.6,3.6,5.15,4.6,5.4,5.6,5.0,6.6,5.25,7.6,4.9,8.6,5.2,9.4,4.8,0.0,4.95,1.0,4.7,2.0,4.95,3.0,4.5,4.0,4.8,5.0,4.35,6.0,4.65,7.0,4.25,8.0,4.55,9.0,4.15,0.4,4.3,1.4,4.05,2.4,4.4,3.4,3.9,4.4,4.2,5.4,3.8,6.4,4.05,7.4,3.7,8.4,3.95,9.2,3.6,0.2,3.6,0.6,3.3,1.0,3.0,0.4,2.75,1.8,2.55,6.8,3.4,7.6,3.15,8.2,2.9,8.8,2.65,1.6,2.35,1.7,2.3,7.2,2.27,2.0,6.5,3.8,6.1,5.4,6.45,6.8,5.85,8.8,5.5,3.0,5.1,5.0,4.9,7.0,4.7,1.8,4.55,4.8,3.95,3.2,3.6,
  0.1,5.75,0.3,4.6,0.5,5.25,0.7,3.9,0.9,6.05,1.1,4.45,1.3,5.5,1.5,3.75,1.7,5.05,1.9,4.25,2.1,5.8,2.3,3.85,2.5,4.75,2.7,5.35,2.9,4.1,3.1,5.55,3.3,4.65,3.5,6.0,3.7,4.35,3.9,5.2,4.1,3.7,4.3,5.6,4.5,4.5,4.7,5.95,4.9,4.0,5.1,5.1,5.3,4.6,5.5,5.8,5.7,3.9,5.9,4.95,6.1,5.45,6.3,4.3,6.5,5.65,6.7,4.55,6.9,5.0,7.1,3.85,7.3,5.35,7.5,4.45,7.7,5.9,7.9,4.05,8.1,5.15,8.3,4.7,8.5,3.8,8.7,5.4,8.9,4.35,9.1,4.9,9.3,5.6,9.5,4.1];
const nightPoints = [n09Jan,n10Jan,n11Jan,n12Jan,n13Jan,n14Jan,n15Jan,n16Jan,n17Jan,n18Jan,n19Jan,n23Jan,n24Jan,n25Jan,n26Jan,n27Jan,n28Jan,n29Jan,n30Jan,n31Jan,n01Feb];

const points = [];
nightPoints.forEach((arr, i) => {
  for (let k = 0; k < arr.length; k += 2) {
    points.push({x: nightDays[i] + arr[k] / 24, y: arr[k + 1]});
  }
});

const FONT = "'Liberation Serif', 'Times New Roman', serif";
Chart.defaults.font.family = FONT;
Chart.defaults.color = '#000';

new Chart(document.getElementById('c'), {
  type: 'scatter',
  data: {
    datasets: [{
      data: points,
      pointStyle: 'cross',
      pointRadius: 3,
      pointHoverRadius: 3,
      borderColor: '#ff0000',
      backgroundColor: '#ff0000',
      pointBorderWidth: 2
    }]
  },
  options: {
    responsive: false,
    animation: false,
    devicePixelRatio: 1,
    layout: {padding: {left: 0, right: 5, top: 0, bottom: 0}},
    plugins: {
      legend: {display: false},
      tooltip: {enabled: false},
      title: {
        display: true,
        fullSize: false,
        text: 'AO Time Constant',
        color: '#000',
        font: {size: 53, weight: 'normal', family: FONT, lineHeight: 1.0},
        padding: {top: 9, bottom: 0}
      },
      subtitle: {
        display: true,
        fullSize: false,
        text: 'Cerro Pachon : 2003-01-08 00:00:00 -- 2003-02-02 00:00:00',
        color: '#000',
        font: {size: 35, weight: 'normal', family: FONT, lineHeight: 1.0},
        padding: {top: 11, bottom: 17}
      }
    },
    scales: {
      x: {
        type: 'linear',
        min: 0,
        max: 25,
        afterFit: (s) => { s.height = 82; },
        border: {display: true, color: '#000', width: 1.6},
        grid: {color: '#000', lineWidth: 1.5, drawTicks: false},
        ticks: {
          stepSize: 1,
          autoSkip: false,
          maxRotation: 0,
          padding: 10,
          font: {size: 35, family: FONT},
          color: '#000',
          callback: (v) => (v % 4 === 0 ? xTickLabels[v / 4] : '')
        },
        title: {
          display: true,
          text: 'Date & Time (UT)',
          color: '#000',
          font: {size: 35, family: FONT, lineHeight: 1.0},
          padding: {top: 0, bottom: 0}
        }
      },
      y: {
        min: 0,
        max: 10,
        afterFit: (s) => { s.width = 107; },
        border: {display: true, color: '#000', width: 1.6},
        grid: {color: '#000', lineWidth: 1.5, drawTicks: false},
        ticks: {
          stepSize: 0.5,
          autoSkip: false,
          padding: 12,
          font: {size: 35, family: FONT},
          color: '#000',
          callback: (v) => (Number.isInteger(v) ? yTickLabels[v] : '')
        },
        title: {
          display: true,
          text: 'Tau (Milliseconds)',
          color: '#000',
          font: {size: 35, family: FONT, lineHeight: 1.2},
          padding: {top: 10, bottom: 0}
        }
      }
    }
  }
});
</script>
</body>
</html>
